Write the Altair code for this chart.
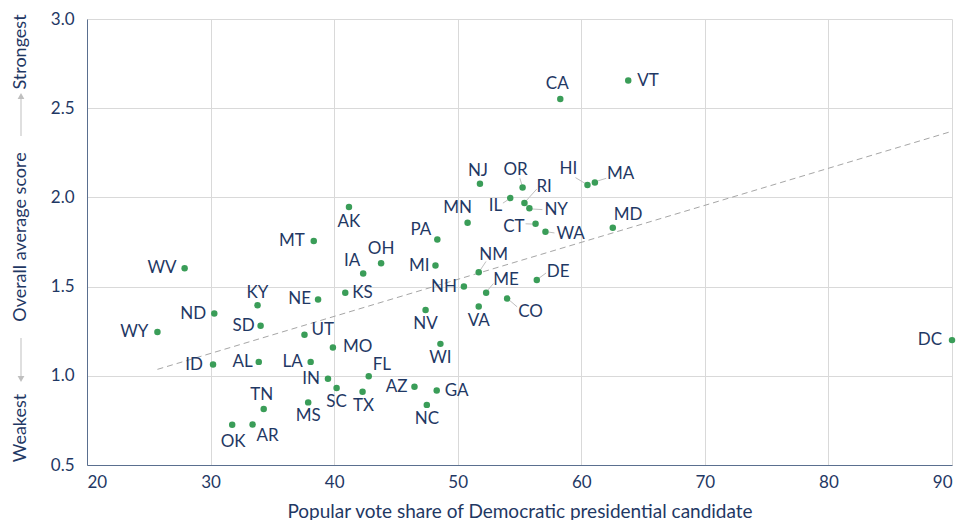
import altair as alt
import pandas as pd

# state, popular vote share of Democratic candidate, overall average score
states = ["AK", "AL", "AR", "AZ", "CA", "CO", "CT", "DC", "DE", "FL",
          "GA", "HI", "IA", "ID", "IL", "IN", "KS", "KY", "LA", "MA",
          "MD", "ME", "MI", "MN", "MO", "MS", "MT", "NC", "ND", "NE",
          "NH", "NJ", "NM", "NV", "NY", "OH", "OK", "OR", "PA", "RI",
          "SC", "SD", "TN", "TX", "UT", "VA", "VT", "WA", "WI", "WV", "WY"]
dem_share = [41.2, 33.9, 33.4, 46.5, 58.3, 54.0, 56.3, 90.0, 56.4, 42.8,
             48.3, 60.5, 42.35, 30.2, 54.25, 39.5, 40.9, 33.8, 38.1, 61.1,
             62.55, 52.3, 48.2, 50.8, 39.9, 37.9, 38.35, 47.5, 30.3, 38.7,
             50.5, 51.8, 51.7, 47.4, 55.8, 43.8, 31.75, 55.25, 48.35, 55.4,
             40.2, 34.05, 34.3, 42.3, 37.6, 51.7, 63.8, 57.1, 48.6, 27.9, 25.7]
avg_score = [1.946, 1.078, 0.727, 0.939, 2.551, 1.433, 1.852, 1.20, 1.537, 0.998,
             0.917, 2.07, 1.574, 1.063, 1.996, 0.983, 1.465, 1.395, 1.078, 2.083,
             1.83, 1.465, 1.618, 1.858, 1.159, 0.851, 1.756, 0.837, 1.349, 1.428,
             1.50, 2.077, 1.581, 1.369, 1.939, 1.631, 0.725, 2.055, 1.764, 1.968,
             0.932, 1.28, 0.814, 0.91, 1.23, 1.389, 2.655, 1.808, 1.179, 1.603, 1.245]

# label placement: align, dx, dy (pixels from the point)
label_pos = {
    "AK": ("center", 0, 15), "AL": ("right", -6, 0), "AR": ("left", 4, 11),
    "AZ": ("right", -7, 0), "CA": ("center", -3, -15), "CO": ("left", 11, 13),
    "CT": ("right", -11, 3), "DC": ("right", -10, 0), "DE": ("left", 10, -8),
    "FL": ("left", 4, -11), "GA": ("left", 8, 0), "HI": ("center", -19, -16),
    "IA": ("center", -11, -12), "ID": ("right", -10, 0), "IL": ("right", -8, 8),
    "IN": ("right", -8, 0), "KS": ("left", 7, 0), "KY": ("center", 0, -12),
    "LA": ("right", -8, 0), "MA": ("left", 12, -9), "MD": ("left", 1, -13),
    "ME": ("left", 7, -13), "MI": ("right", -6, 0), "MN": ("center", -10, -15),
    "MO": ("left", 10, 0), "MS": ("center", 0, 14), "MT": ("right", -9, 0),
    "NC": ("center", 0, 14), "ND": ("right", -8, 0), "NE": ("right", -7, 0),
    "NH": ("right", -7, 0), "NJ": ("center", -2, -13), "NM": ("center", 15, -17),
    "NV": ("center", 0, 14), "NY": ("left", 15, 2), "OH": ("center", 0, -14),
    "OK": ("center", 1, 17), "OR": ("center", -7, -18), "PA": ("right", -6, -10),
    "RI": ("left", 12, -16), "SC": ("center", 0, 14), "SD": ("right", -6, 0),
    "TN": ("center", -2, -14), "TX": ("center", 1, 14), "UT": ("left", 7, -5),
    "VA": ("center", 0, 15), "VT": ("left", 9, 0), "WA": ("left", 11, 2),
    "WI": ("center", 0, 14), "WV": ("right", -8, 0), "WY": ("right", -9, 0),
}

# leader lines: x1, y1, x2, y2 (pixels from the point)
leaders = {
    "OR": (-2.7, -9.3, -0.7, -2.7), "HI": (-12, -7.3, -2, -1.3),
    "MA": (3, -1.7, 11.3, -4.3), "IL": (-7.3, 5, -2.3, 1.7),
    "RI": (1.7, -2.3, 12.3, -14), "NY": (2.3, 0.7, 13, 1.3),
    "CT": (-10, 0, -2.3, 0.3), "WA": (2.3, 0.3, 9, 1.3),
    "NM": (1.3, -1.7, 7.3, -10.7), "DE": (2, -1.7, 9.3, -7),
    "ME": (1.3, -2.3, 7.3, -9.3), "CO": (2.3, 1.7, 10, 8.3),
}

W, H = 865, 446
X_DOM, Y_DOM = (20, 90), (0.5, 3.0)
PX = W / (X_DOM[1] - X_DOM[0])
PY = H / (Y_DOM[1] - Y_DOM[0])

NAVY = "#1f3864"
GREEN = "#3a9d58"
FONT = "Lato"

df = pd.DataFrame({"state": states, "share": dem_share, "score": avg_score})
df["align"] = [label_pos[s][0] for s in states]
df["lx"] = [x + label_pos[s][1] / PX for s, x in zip(states, dem_share)]
df["ly"] = [y - label_pos[s][2] / PY for s, y in zip(states, avg_score)]

lead = pd.DataFrame([
    {"x1": df.loc[df.state == s, "share"].iloc[0] + v[0] / PX,
     "y1": df.loc[df.state == s, "score"].iloc[0] - v[1] / PY,
     "x2": df.loc[df.state == s, "share"].iloc[0] + v[2] / PX,
     "y2": df.loc[df.state == s, "score"].iloc[0] - v[3] / PY}
    for s, v in leaders.items()
])

xs = alt.Scale(domain=list(X_DOM), nice=False, zero=False)
ys = alt.Scale(domain=list(Y_DOM), nice=False, zero=False)

x_axis = alt.Axis(values=list(range(20, 91, 10)), title="Popular vote share of Democratic presidential candidate",
                  titlePadding=12, titleFontSize=19)
y_axis = alt.Axis(values=[0.5, 1.0, 1.5, 2.0, 2.5, 3.0], format=".1f", title=None, labelPadding=13)

base = alt.Chart(df)

trend = base.transform_regression("share", "score").mark_line(
    color="#a6a6a6", strokeDash=[6, 4], strokeWidth=1
).encode(x=alt.X("share:Q", scale=xs, axis=x_axis), y=alt.Y("score:Q", scale=ys, axis=y_axis))

lines = alt.Chart(lead).mark_rule(color="#bfbfbf", strokeWidth=1).encode(
    x=alt.X("x1:Q", scale=xs), y=alt.Y("y1:Q", scale=ys), x2="x2:Q", y2="y2:Q"
)

points = base.mark_circle(size=42, color=GREEN, opacity=1).encode(
    x=alt.X("share:Q", scale=xs), y=alt.Y("score:Q", scale=ys)
)

label_layers = []
for a in ["left", "center", "right"]:
    label_layers.append(
        base.transform_filter(alt.datum.align == a).mark_text(
            align=a, baseline="middle", font=FONT, fontSize=17, color=NAVY
        ).encode(x=alt.X("lx:Q", scale=xs), y=alt.Y("ly:Q", scale=ys), text="state:N")
    )

# y-axis annotation: Weakest <- Overall average score -> Strongest
one = alt.Chart(pd.DataFrame({"k": [0]}))
ax_x = -66


def side_text(txt, y):
    return one.mark_text(angle=270, font=FONT, fontSize=18, color=NAVY, baseline="middle", align="center").encode(
        x=alt.value(ax_x), y=alt.value(y), text=alt.value(txt))


ytitle = side_text("Overall average score", 218)
strong = side_text("Strongest", 33)
weak = side_text("Weakest", 409)
up_line = one.mark_rule(color="#bfbfbf", strokeWidth=1).encode(
    x=alt.value(ax_x), y=alt.value(78), y2=alt.value(117))
up_head = one.mark_point(shape="triangle-up", filled=True, color="#bfbfbf", size=45, opacity=1).encode(
    x=alt.value(ax_x), y=alt.value(77))
dn_line = one.mark_rule(color="#bfbfbf", strokeWidth=1).encode(
    x=alt.value(ax_x), y=alt.value(319), y2=alt.value(359))
dn_head = one.mark_point(shape="triangle-down", filled=True, color="#bfbfbf", size=45, opacity=1).encode(
    x=alt.value(ax_x), y=alt.value(360))

chart = alt.layer(
    trend, lines, points, *label_layers, ytitle, strong, weak, up_line, up_head, dn_line, dn_head
).properties(
    width=W, height=H,
    autosize=alt.AutoSizeParams(type="none"),
    padding={"left": 79, "top": 11, "right": 7, "bottom": 55},
).configure_view(
    stroke=None
).configure_axis(
    grid=True, gridColor="#d9d9d9", gridWidth=1,
    domainColor="#5a6f8f", domainWidth=1, ticks=False,
    labelFont=FONT, labelFontSize=17, labelColor=NAVY,
    titleFont=FONT, titleFontSize=17, titleColor=NAVY, titleFontWeight="normal",
).configure_axisX(labelPadding=9)

chart.save("out.html", embed_options={"renderer": "svg", "actions": False})
